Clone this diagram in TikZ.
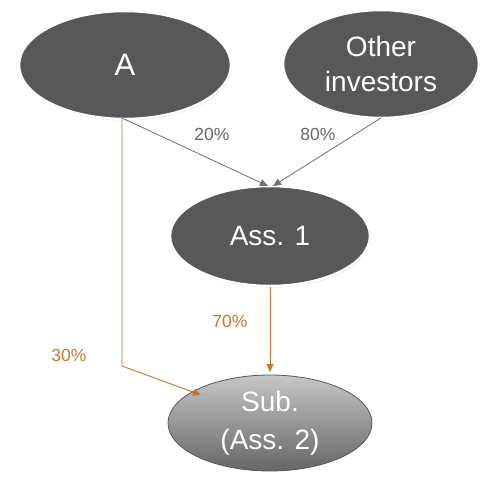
\documentclass[tikz,border=0pt]{standalone}
\usepackage{fontspec}
\setmainfont{Liberation Sans}
\usetikzlibrary{shapes.geometric,arrows.meta,shadows}
\definecolor{darkfill}{HTML}{58585A}
\definecolor{orangeline}{HTML}{C87530}
\definecolor{grayline}{HTML}{6E6E70}
\definecolor{lbl}{HTML}{666666}
\tikzset{
  ent/.style={ellipse, fill=darkfill, draw=white, line width=2.5pt, text=white, inner sep=0pt,
    drop shadow={shadow xshift=1pt, shadow yshift=-1.5pt, opacity=0.25}},
  sub/.style={ellipse, draw=darkfill, line width=0.8pt, top color=gray!45, bottom color=gray!80!black, text=white, inner sep=0pt},
  gl/.style={draw=grayline, line width=0.8pt, -{Triangle[length=8pt,width=7pt]}},
  ol/.style={draw=orangeline, line width=0.9pt, -{Triangle[length=8pt,width=7pt]}},
  pct/.style={font=\fontsize{17.5}{20}\selectfont},
  big/.style={font=\fontsize{28}{35}\selectfont},
}
\begin{document}
\begin{tikzpicture}[x=1pt,y=-1pt]
\useasboundingbox (0,0) rectangle (484,477);
\node[ent, minimum width=212pt, minimum height=108pt, font=\fontsize{31}{33}\selectfont] (a) at (125,65) {A};
\node[ent, minimum width=196pt, minimum height=108pt, big, align=center] (o) at (381,64) {Other\\investors};
\node[ent, minimum width=200pt, minimum height=100pt, big] (s1) at (270,236) {Ass. 1};
\node[sub, minimum width=204pt, minimum height=96pt, font=\fontsize{28}{38}\selectfont, align=center] (s2) at (270,423) {Sub.\\(Ass. 2)};
\coordinate (aout) at (122,118);
\coordinate (oout) at (381,118);
\coordinate (in1) at (268,186);
\coordinate (in2) at (273,186);
\coordinate (bend) at (122,366);
\coordinate (s2in) at (201,395);
\draw[gl] (aout) -- (in1);
\draw[gl] (oout) -- (in2);
\draw[ol] (aout) -- (bend) -- (s2in);
\draw[ol] (s1.south) -- (s1.south |- 0,372);
\node[pct, text=lbl] (l20) at (212,134) {20\%};
\node[pct, text=lbl] (l80) at (318,134) {80\%};
\node[pct, text=orangeline] (l70) at (230,321) {70\%};
\node[pct, text=orangeline] (l30) at (69,355) {30\%};
\end{tikzpicture}
\end{document}
